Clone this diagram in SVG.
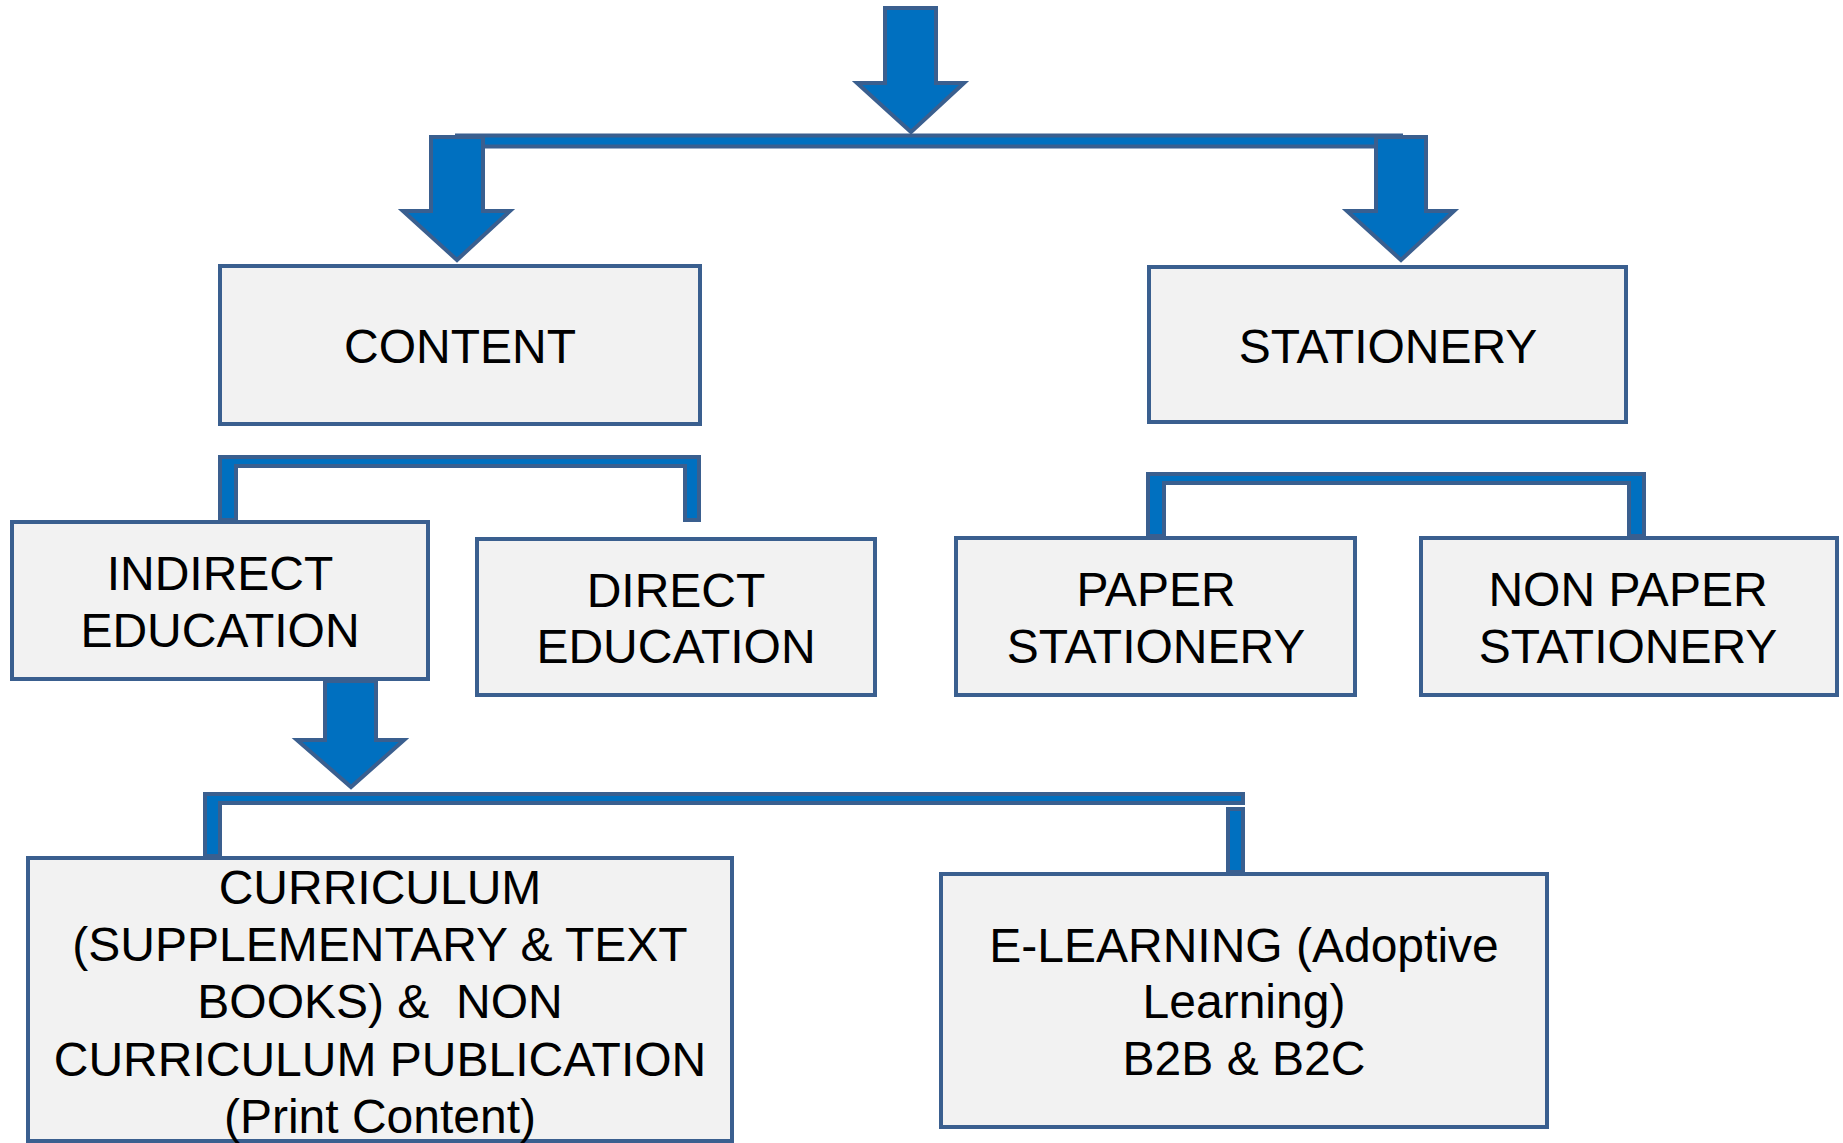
<svg xmlns="http://www.w3.org/2000/svg" width="1843" height="1143" viewBox="0 0 1843 1143">
  <style>
    .box { fill: #F2F2F2; stroke: #3A5F8F; stroke-width: 4; }
    .lbl { font-family: "Liberation Sans", Arial, sans-serif; font-size: 48px; fill: #000; text-anchor: middle; }
    .pre { white-space: pre; }
    .flow { fill: #0070C0; stroke: #3A5F8F; stroke-width: 4; stroke-linejoin: miter; }
  </style>
  <rect width="1843" height="1143" fill="#FFFFFF"/>

  <g id="connectors">
    <!-- main split bar under the top arrow -->
    <rect class="flow" x="457" y="135.5" width="944" height="11"/>
    <!-- top entry arrow -->
    <polygon class="flow" points="885,8 936,8 936,83 964,83 911,132 857,83 885,83"/>
    <!-- arrow to CONTENT -->
    <polygon class="flow" points="431,137 483,137 483,211 510,211 457,260 403,211 431,211"/>
    <!-- arrow to STATIONERY -->
    <polygon class="flow" points="1376,137 1426,137 1426,211 1454,211 1401,260 1347,211 1376,211"/>
    <!-- CONTENT bracket to indirect / direct education -->
    <polygon class="flow" points="220,457 699,457 699,520 685,520 685,466 236,466 236,520 220,520"/>
    <!-- STATIONERY bracket to paper / non paper -->
    <polygon class="flow" points="1148,474 1644,474 1644,536 1629,536 1629,483 1164,483 1164,536 1148,536"/>
    <!-- arrow out of INDIRECT EDUCATION -->
    <polygon class="flow" points="325,681 376,681 376,740 404,740 351,787 297,740 325,740"/>
    <!-- lower split bar and left leg -->
    <polygon class="flow" points="205,794 1243,794 1243,803 220,803 220,856 205,856"/>
    <!-- right leg to E-LEARNING -->
    <rect class="flow" x="1228" y="809" width="15" height="63"/>
  </g>

  <g id="node-content">
    <rect class="box" x="220" y="266" width="480" height="158"/>
    <text class="lbl" x="460" y="363">CONTENT</text>
  </g>

  <g id="node-stationery">
    <rect class="box" x="1149" y="267" width="477" height="155"/>
    <text class="lbl" x="1388" y="363">STATIONERY</text>
  </g>

  <g id="node-indirect-education">
    <rect class="box" x="12" y="522" width="416" height="157"/>
    <text class="lbl" x="220" y="590">INDIRECT</text>
    <text class="lbl" x="220" y="647">EDUCATION</text>
  </g>

  <g id="node-direct-education">
    <rect class="box" x="477" y="539" width="398" height="156"/>
    <text class="lbl" x="676" y="607">DIRECT</text>
    <text class="lbl" x="676" y="663">EDUCATION</text>
  </g>

  <g id="node-paper-stationery">
    <rect class="box" x="956" y="538" width="399" height="157"/>
    <text class="lbl" x="1156" y="606">PAPER</text>
    <text class="lbl" x="1156" y="663">STATIONERY</text>
  </g>

  <g id="node-non-paper-stationery">
    <rect class="box" x="1421" y="538" width="416" height="157"/>
    <text class="lbl" x="1628" y="606">NON PAPER</text>
    <text class="lbl" x="1628" y="663">STATIONERY</text>
  </g>

  <g id="node-curriculum">
    <rect class="box" x="28" y="858" width="704" height="283"/>
    <text class="lbl" x="380" y="904">CURRICULUM</text>
    <text class="lbl" x="380" y="961">(SUPPLEMENTARY &amp; TEXT</text>
    <text class="lbl pre" x="380" y="1018">BOOKS) &amp;  NON</text>
    <text class="lbl" x="380" y="1076">CURRICULUM PUBLICATION</text>
    <text class="lbl" x="380" y="1133">(Print Content)</text>
  </g>

  <g id="node-e-learning">
    <rect class="box" x="941" y="874" width="606" height="253"/>
    <text class="lbl" x="1244" y="962">E-LEARNING (Adoptive</text>
    <text class="lbl" x="1244" y="1018">Learning)</text>
    <text class="lbl" x="1244" y="1075">B2B &amp; B2C</text>
  </g>
</svg>
